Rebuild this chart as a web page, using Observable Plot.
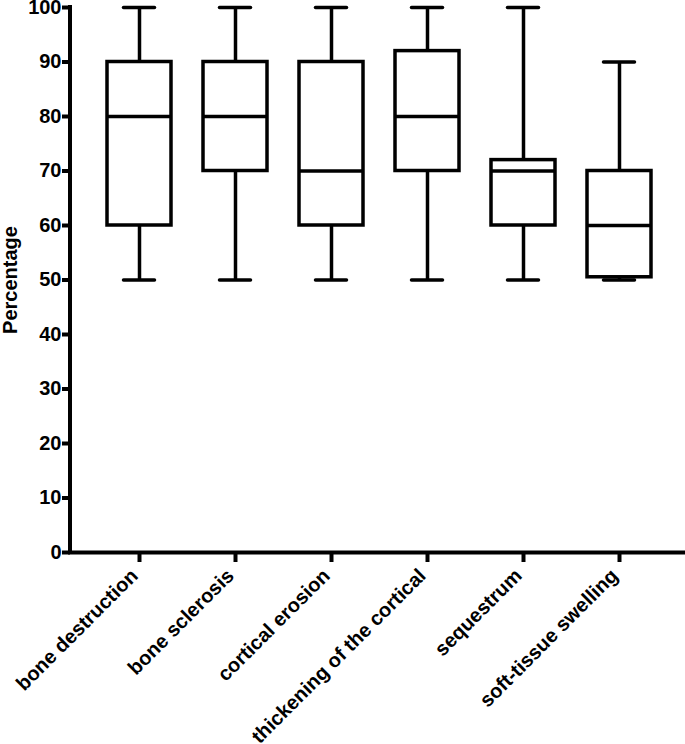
<!DOCTYPE html>
<html><head><meta charset="utf-8">
<script src="https://cdn.jsdelivr.net/npm/d3@7"></script>
<script src="https://cdn.jsdelivr.net/npm/@observablehq/plot@0.6"></script>
<style>
body{margin:0;background:#fff}
#chart svg{font-family:"Liberation Sans",Arial,Helvetica,sans-serif;font-weight:bold;overflow:visible}
#chart svg text{font-weight:bold}
</style>
</head><body><div id="chart"></div>
<script>
const categories = ["bone destruction","bone sclerosis","cortical erosion","thickening of the cortical","sequestrum","soft-tissue swelling"];
const whiskerLow = [50,50,50,50,50,50];
const q1 = [60,70,60,70,60,50.5];
const median = [80,80,70,80,70,60];
const q3 = [90,90,90,92,72,70];
const whiskerHigh = [100,100,100,100,100,90];
const yTicks = [0,10,20,30,40,50,60,70,80,90,100];

const data = categories.map((c,i)=>({cat:c, lo:whiskerLow[i], q1:q1[i], med:median[i], q3:q3[i], hi:whiskerHigh[i]}));

const yLine = (index, scales, values, dims) => {
  const {y} = scales;
  return d3.create("svg:line")
    .attr("x1", dims.marginLeft).attr("x2", dims.marginLeft)
    .attr("y1", y(100) - 2).attr("y2", y(0) + 2)
    .attr("stroke", "black").attr("stroke-width", 4).node();
};

const chart = Plot.plot({
  width: 685,
  height: 744,
  marginLeft: 70,
  marginRight: 0,
  marginTop: 7,
  marginBottom: 192,
  x: {type:"band", domain: categories, range:[89.5, 667.5], paddingInner: 0.335, paddingOuter: 0.1675, label: null},
  y: {domain:[0,100], label: null},
  marks: [
    Plot.ruleX(data, {x:"cat", y1:"lo", y2:"q1", stroke:"black", strokeWidth:3.5}),
    Plot.ruleX(data, {x:"cat", y1:"q3", y2:"hi", stroke:"black", strokeWidth:3.5}),
    Plot.tickY(data, {x:"cat", y:"lo", stroke:"black", strokeWidth:3.5, strokeLinecap:"round", insetLeft:16.5, insetRight:16.5}),
    Plot.tickY(data, {x:"cat", y:"hi", stroke:"black", strokeWidth:3.5, strokeLinecap:"round", insetLeft:16.5, insetRight:16.5}),
    Plot.barY(data, {x:"cat", y1:"q1", y2:"q3", fill:"white", stroke:"black", strokeWidth:3.5}),
    Plot.tickY(data, {x:"cat", y:"med", stroke:"black", strokeWidth:3.5}),
    Plot.axisY({ticks: yTicks, tickSize: 8, tickPadding: 1, strokeWidth: 4, fontSize: 20, fontWeight: "bold", label: "Percentage", labelAnchor: "center", labelOffset: 68, labelArrow: false}),
    Plot.axisX({tickSize: 10, strokeWidth: 4, label: null, text: null}),
    Plot.axisX({tickSize: 0, tickPadding: 20, tickRotate: -45, dx: -5, fontSize: 20, fontWeight: "bold", label: null}),
    Plot.ruleY([0], {stroke:"black", strokeWidth:4, insetLeft:-2}),
    yLine
  ]
});
document.getElementById("chart").append(chart);
</script>
</body></html>
